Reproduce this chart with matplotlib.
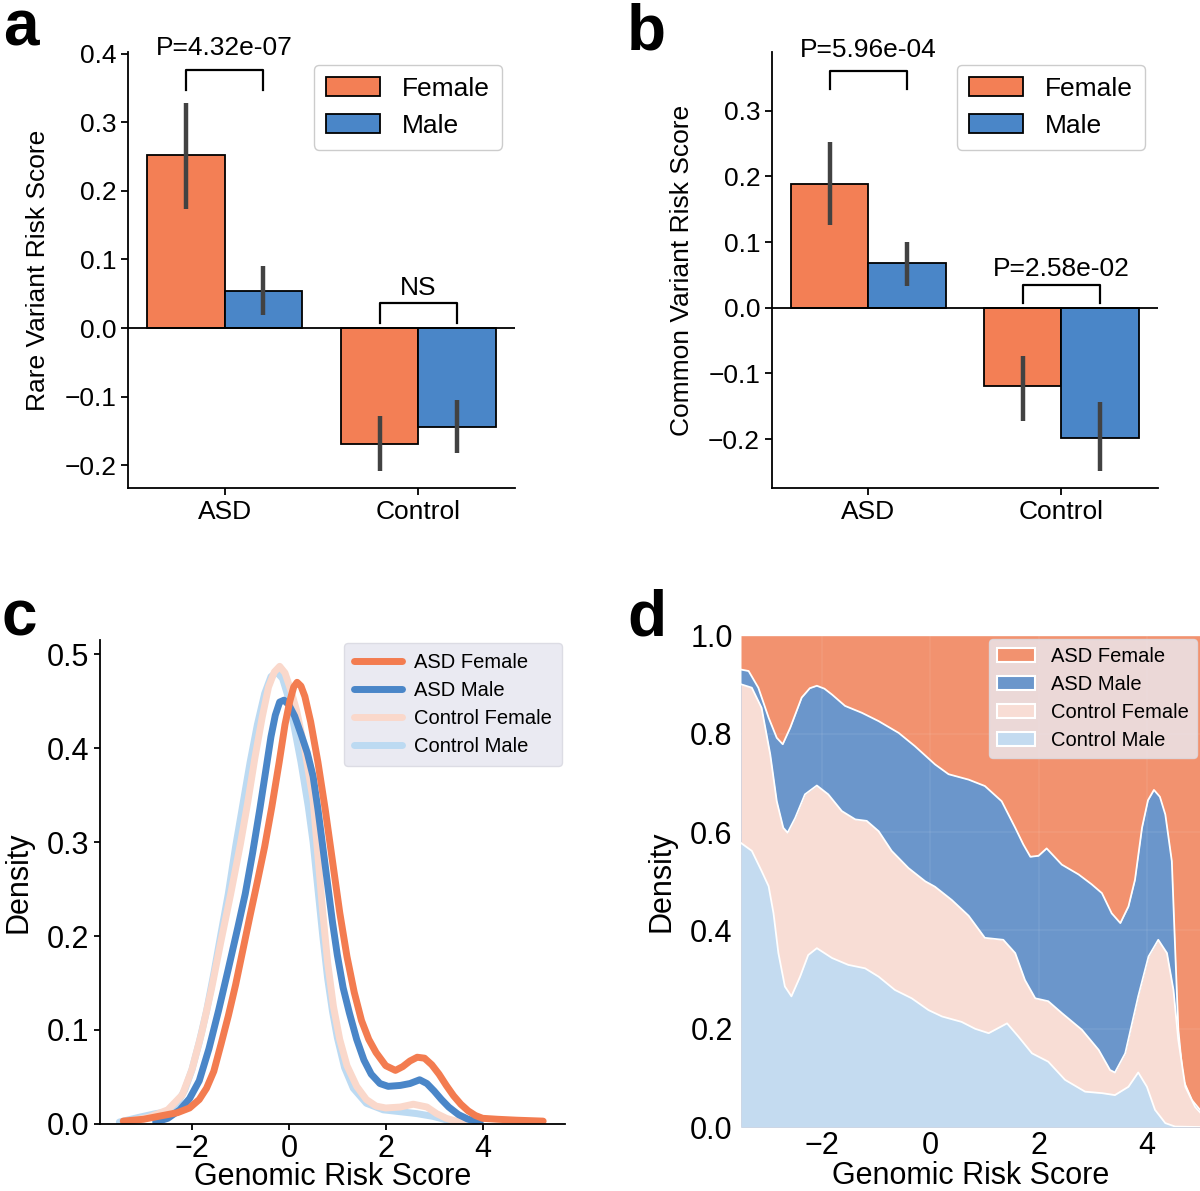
import matplotlib.pyplot as plt
import numpy as np

plt.rcParams["font.family"] = ["Liberation Sans", "DejaVu Sans"]

# ---- panel a / b : mean risk score with 95% CI ----
groups = ["ASD", "Control"]
sexes = ["Female", "Male"]
bar_colors = {"Female": "#F37F55", "Male": "#4A86C8"}

rare_mean = {"Female": [0.253, -0.170], "Male": [0.054, -0.145]}
rare_lo = {"Female": [0.173, -0.209], "Male": [0.019, -0.183]}
rare_hi = {"Female": [0.329, -0.128], "Male": [0.090, -0.105]}
rare_pvals = ["P=4.32e-07", "NS"]

common_mean = {"Female": [0.189, -0.119], "Male": [0.068, -0.199]}
common_lo = {"Female": [0.126, -0.173], "Male": [0.033, -0.249]}
common_hi = {"Female": [0.252, -0.073], "Male": [0.100, -0.144]}
common_pvals = ["P=5.96e-04", "P=2.58e-02"]

# ---- panel c : KDE curves (Genomic Risk Score vs density) ----
kde_labels = ["ASD Female", "ASD Male", "Control Female", "Control Male"]
kde_colors = ["#F37C50", "#4A86C8", "#FAD8CB", "#BCDAF2"]

asdf_x = [-3.42, -3.0, -2.6, -2.3, -2.05, -1.85, -1.7, -1.55, -1.4, -1.25, -1.1, -0.95,
          -0.8, -0.65, -0.5, -0.35, -0.2, -0.08, 0.02, 0.1, 0.17, 0.25, 0.33, 0.45, 0.6,
          0.75, 0.9, 1.05, 1.2, 1.35, 1.5, 1.65, 1.8, 2.0, 2.2, 2.35, 2.5, 2.65, 2.8,
          2.95, 3.1, 3.25, 3.4, 3.55, 3.7, 3.85, 4.0, 4.3, 4.7, 5.25]
asdf_y = [0.003, 0.005, 0.009, 0.012, 0.017, 0.026, 0.038, 0.056, 0.085, 0.115, 0.148,
          0.185, 0.222, 0.258, 0.295, 0.338, 0.385, 0.425, 0.450, 0.465, 0.470, 0.466,
          0.455, 0.428, 0.385, 0.335, 0.280, 0.225, 0.178, 0.140, 0.110, 0.090, 0.076,
          0.062, 0.057, 0.061, 0.067, 0.071, 0.070, 0.063, 0.053, 0.041, 0.030, 0.021,
          0.014, 0.009, 0.006, 0.005, 0.004, 0.003]

asdm_x = [-2.75, -2.5, -2.25, -2.05, -1.85, -1.65, -1.45, -1.25, -1.05, -0.9, -0.75,
          -0.6, -0.48, -0.37, -0.28, -0.19, -0.1, 0.0, 0.12, 0.25, 0.38, 0.5, 0.6, 0.7,
          0.8, 0.9, 1.0, 1.12, 1.25, 1.4, 1.55, 1.7, 1.88, 2.05, 2.3, 2.5, 2.7, 2.85,
          3.0, 3.15, 3.3, 3.5, 3.7, 3.95]
asdm_y = [0.002, 0.006, 0.015, 0.027, 0.046, 0.080, 0.121, 0.165, 0.210, 0.245, 0.288,
          0.335, 0.375, 0.412, 0.435, 0.449, 0.451, 0.446, 0.434, 0.415, 0.395, 0.370,
          0.335, 0.295, 0.255, 0.215, 0.180, 0.145, 0.118, 0.090, 0.068, 0.053, 0.043,
          0.040, 0.041, 0.043, 0.047, 0.043, 0.035, 0.026, 0.018, 0.010, 0.005, 0.002]

ctlf_x = [-3.30, -2.9, -2.5, -2.2, -2.0, -1.8, -1.6, -1.4, -1.2, -1.0, -0.85, -0.7,
          -0.55, -0.42, -0.3, -0.19, -0.08, 0.05, 0.16, 0.33, 0.5, 0.6, 0.7, 0.8, 0.92,
          1.05, 1.2, 1.4, 1.6, 1.8, 2.0, 2.3, 2.57, 2.85, 3.05, 3.25, 3.45, 3.6]
ctlf_y = [0.003, 0.007, 0.015, 0.031, 0.058, 0.097, 0.143, 0.195, 0.245, 0.298, 0.342,
          0.390, 0.433, 0.465, 0.481, 0.487, 0.480, 0.460, 0.440, 0.398, 0.345, 0.285,
          0.225, 0.172, 0.125, 0.090, 0.062, 0.040, 0.026, 0.019, 0.017, 0.018, 0.021,
          0.018, 0.011, 0.006, 0.003, 0.002]

ctlm_x = [-3.50, -3.1, -2.75, -2.5, -2.3, -2.15, -2.0, -1.85, -1.7, -1.55, -1.4, -1.25,
          -1.1, -0.95, -0.8, -0.65, -0.5, -0.37, -0.25, -0.13, 0.0, 0.12, 0.25, 0.4,
          0.5, 0.6, 0.7, 0.8, 0.9, 1.0, 1.15, 1.33, 1.6, 1.95, 2.3, 2.64, 2.98, 3.2, 3.4]
ctlm_y = [0.002, 0.007, 0.011, 0.013, 0.022, 0.036, 0.058, 0.087, 0.120, 0.160, 0.203,
          0.245, 0.295, 0.340, 0.385, 0.425, 0.458, 0.476, 0.481, 0.474, 0.452, 0.420,
          0.385, 0.338, 0.300, 0.250, 0.200, 0.155, 0.120, 0.092, 0.060, 0.038, 0.022,
          0.015, 0.013, 0.011, 0.008, 0.005, 0.002]

# ---- panel d : stacked (fill) KDE boundaries ----
fill_colors = ["#F2926F", "#6B96CB", "#F8DDD5", "#C4DBF0"]

asdm_top_x = [-3.49, -3.35, -3.17, -2.98, -2.83, -2.72, -2.58, -2.37, -2.22, -2.09,
              -1.95, -1.81, -1.57, -1.26, -0.95, -0.58, -0.28, 0.09, 0.34, 0.71, 1.01,
              1.32, 1.57, 1.72, 1.85, 2.0, 2.15, 2.43, 2.74, 2.98, 3.17, 3.35, 3.51,
              3.66, 3.78, 3.91, 4.02, 4.13, 4.24, 4.34, 4.46, 4.52, 4.58, 4.67, 4.83,
              4.98]
asdm_top_y = [0.931, 0.928, 0.894, 0.833, 0.792, 0.779, 0.813, 0.874, 0.893, 0.898,
              0.892, 0.880, 0.857, 0.843, 0.826, 0.802, 0.775, 0.738, 0.718, 0.707,
              0.694, 0.663, 0.609, 0.575, 0.550, 0.552, 0.567, 0.534, 0.514, 0.494,
              0.476, 0.435, 0.415, 0.449, 0.503, 0.609, 0.665, 0.686, 0.672, 0.636,
              0.541, 0.367, 0.198, 0.096, 0.055, 0.035]

ctlf_top_x = [-3.49, -3.29, -3.11, -2.95, -2.83, -2.71, -2.63, -2.49, -2.31, -2.09,
              -1.88, -1.63, -1.38, -1.17, -0.95, -0.71, -0.40, -0.09, 0.09, 0.40,
              0.71, 1.01, 1.35, 1.57, 1.75, 1.94, 2.18, 2.43, 2.80, 3.11, 3.32, 3.41,
              3.60, 3.84, 4.03, 4.21, 4.37, 4.49, 4.58, 4.71, 4.89, 4.98]
ctlf_top_y = [0.901, 0.894, 0.853, 0.758, 0.663, 0.609, 0.599, 0.629, 0.677, 0.695,
              0.677, 0.643, 0.626, 0.623, 0.602, 0.562, 0.527, 0.500, 0.489, 0.462,
              0.430, 0.385, 0.381, 0.354, 0.299, 0.262, 0.256, 0.232, 0.198, 0.157,
              0.116, 0.111, 0.150, 0.266, 0.347, 0.381, 0.354, 0.279, 0.177, 0.082,
              0.041, 0.030]

ctlm_top_x = [-3.49, -3.29, -3.11, -2.98, -2.89, -2.80, -2.68, -2.56, -2.40, -2.25,
              -2.09, -1.81, -1.51, -1.20, -0.95, -0.65, -0.34, -0.03, 0.22, 0.58,
              0.83, 1.08, 1.42, 1.63, 1.88, 2.18, 2.49, 2.86, 3.17, 3.41, 3.66, 3.84,
              4.00, 4.15, 4.34, 4.52, 4.98]
ctlm_top_y = [0.578, 0.562, 0.521, 0.490, 0.435, 0.354, 0.286, 0.266, 0.306, 0.350,
              0.364, 0.344, 0.330, 0.323, 0.306, 0.279, 0.262, 0.238, 0.225, 0.214,
              0.200, 0.191, 0.211, 0.184, 0.150, 0.133, 0.096, 0.072, 0.069, 0.065,
              0.082, 0.111, 0.082, 0.035, 0.008, 0.001, 0.0]


fig = plt.figure(figsize=(12, 11.91), dpi=100)
FS_AB = 19


def bar_panel(ax, means, lo, hi, pvals, ylabel, ylim, yticks, bracket_y, text_y):
    x = np.arange(len(groups))
    width = 0.4
    for i, s in enumerate(sexes):
        xs = x + (i - 0.5) * width
        ax.bar(xs, means[s], width, color=bar_colors[s], edgecolor="black",
               linewidth=1.3, label=s, zorder=2)
        ax.vlines(xs, lo[s], hi[s], color="#424242", linewidth=3.2, zorder=3)
    ax.axhline(0, color="black", linewidth=1.3, zorder=4)
    for j in range(len(groups)):
        x0, x1 = j - width / 2, j + width / 2
        top, leg = bracket_y[j]
        ax.plot([x0, x0, x1, x1], [leg, top, top, leg], color="black", lw=1.6,
                clip_on=False, zorder=5)
        ax.text(j, text_y[j], pvals[j], ha="center", va="center", fontsize=FS_AB)
    ax.set_xlim(-0.5, 1.5)
    ax.set_ylim(*ylim)
    ax.set_xticks(x)
    ax.set_xticklabels(groups)
    ax.set_yticks(yticks)
    ax.set_ylabel(ylabel, fontsize=FS_AB, labelpad=10)
    ax.tick_params(labelsize=FS_AB, width=1.3, length=5)
    for sp in ["top", "right"]:
        ax.spines[sp].set_visible(False)
    for sp in ["left", "bottom"]:
        ax.spines[sp].set_linewidth(1.3)
    ax.legend(loc="upper right", fontsize=FS_AB, borderaxespad=0.5,
              handlelength=2.05, handletextpad=0.85, labelspacing=0.5,
              borderpad=0.45, framealpha=1)


ax_a = fig.add_axes([0.1067, 0.590, 0.3225, 0.3667])
bar_panel(ax_a, rare_mean, rare_lo, rare_hi, rare_pvals, "Rare Variant Risk Score",
          (-0.234, 0.4035), [-0.2, -0.1, 0.0, 0.1, 0.2, 0.3, 0.4],
          [(0.376, 0.348), (0.036, 0.007)], [0.408, 0.059])

ax_b = fig.add_axes([0.6433, 0.590, 0.3217, 0.3667])
bar_panel(ax_b, common_mean, common_lo, common_hi, common_pvals, "Common Variant Risk Score",
          (-0.275, 0.390), [-0.2, -0.1, 0.0, 0.1, 0.2, 0.3],
          [(0.360, 0.333), (0.035, 0.007)], [0.393, 0.059])

# ---- panel c ----
ax_c = fig.add_axes([0.0833, 0.0563, 0.3875, 0.4063])
curves = [(asdf_x, asdf_y), (asdm_x, asdm_y), (ctlf_x, ctlf_y), (ctlm_x, ctlm_y)]
handles = {}
for k in [3, 2, 1, 0]:
    cx, cy = curves[k]
    (ln,) = ax_c.plot(cx, cy, color=kde_colors[k], lw=5, solid_capstyle="round",
                      solid_joinstyle="round", label=kde_labels[k])
    handles[k] = ln
ax_c.set_xlim(-3.9, 5.7)
ax_c.set_ylim(0, 0.515)
ax_c.set_xticks([-2, 0, 2, 4])
ax_c.set_yticks([0.0, 0.1, 0.2, 0.3, 0.4, 0.5])
ax_c.yaxis.set_major_formatter(plt.FormatStrFormatter("%.1f"))
ax_c.tick_params(labelsize=22, width=1.3, length=4)
ax_c.set_xlabel("Genomic Risk Score", fontsize=22, labelpad=-2)
ax_c.set_ylabel("Density", fontsize=22, labelpad=10)
for sp in ["top", "right"]:
    ax_c.spines[sp].set_visible(False)
for sp in ["left", "bottom"]:
    ax_c.spines[sp].set_linewidth(1.3)
ax_c.legend([handles[k] for k in range(4)], kde_labels, loc="upper right",
            fontsize=14.5, facecolor="#EAEAF2", edgecolor="#DCDCE4", framealpha=1,
            borderaxespad=0.15, borderpad=0.5, handlelength=2.4, handletextpad=0.6,
            labelspacing=0.45)

# ---- panel d ----
ax_d = fig.add_axes([0.6175, 0.0537, 0.3825, 0.4126])
ax_d.fill_between(asdm_top_x, asdm_top_y, 1, color=fill_colors[0], lw=0, zorder=1)
ax_d.fill_between(asdm_top_x, 0, asdm_top_y, color=fill_colors[1], lw=0, zorder=2)
ax_d.fill_between(ctlf_top_x, 0, ctlf_top_y, color=fill_colors[2], lw=0, zorder=3)
ax_d.fill_between(ctlm_top_x, 0, ctlm_top_y, color=fill_colors[3], lw=0, zorder=4)
for bx, by, z in [(asdm_top_x, asdm_top_y, 2.5), (ctlf_top_x, ctlf_top_y, 3.5),
                  (ctlm_top_x, ctlm_top_y, 4.5)]:
    ax_d.plot(bx, by, color="white", lw=1.3, zorder=z, solid_joinstyle="round")
ax_d.set_xlim(-3.49, 4.98)
ax_d.set_ylim(0, 1.0)
ax_d.set_xticks([-2, 0, 2, 4])
ax_d.set_yticks([0.0, 0.2, 0.4, 0.6, 0.8, 1.0])
ax_d.yaxis.set_major_formatter(plt.FormatStrFormatter("%.1f"))
ax_d.grid(color="white", alpha=0.07, lw=1.2, zorder=6)
ax_d.set_axisbelow(False)
ax_d.tick_params(labelsize=22, length=0)
ax_d.tick_params(axis="x", pad=3)
ax_d.tick_params(axis="y", pad=6)
ax_d.set_xlabel("Genomic Risk Score", fontsize=22, labelpad=0)
ax_d.set_ylabel("Density", fontsize=22, labelpad=10)
for sp in ax_d.spines.values():
    sp.set_visible(False)
patches = [plt.Rectangle((0, 0), 1, 1, facecolor=c, edgecolor="white", lw=1.5)
           for c in fill_colors]
leg_d = ax_d.legend(patches, kde_labels, loc="upper right", fontsize=14.5,
                    facecolor="#EAEAF2", edgecolor="#DCDCE4", framealpha=0.8,
                    borderaxespad=0.15, handlelength=1.9, handletextpad=0.8,
                    labelspacing=0.45)
leg_d.set_zorder(10)

# ---- panel letters ----
for letter, px, py in [("a", 3, 46), ("b", 627, 50), ("c", 2, 636), ("d", 627, 636)]:
    fig.text(px / 1200, 1 - py / 1191, letter, fontsize=46, fontweight="bold",
             va="baseline", ha="left")

fig.savefig("out.png", dpi=100)
